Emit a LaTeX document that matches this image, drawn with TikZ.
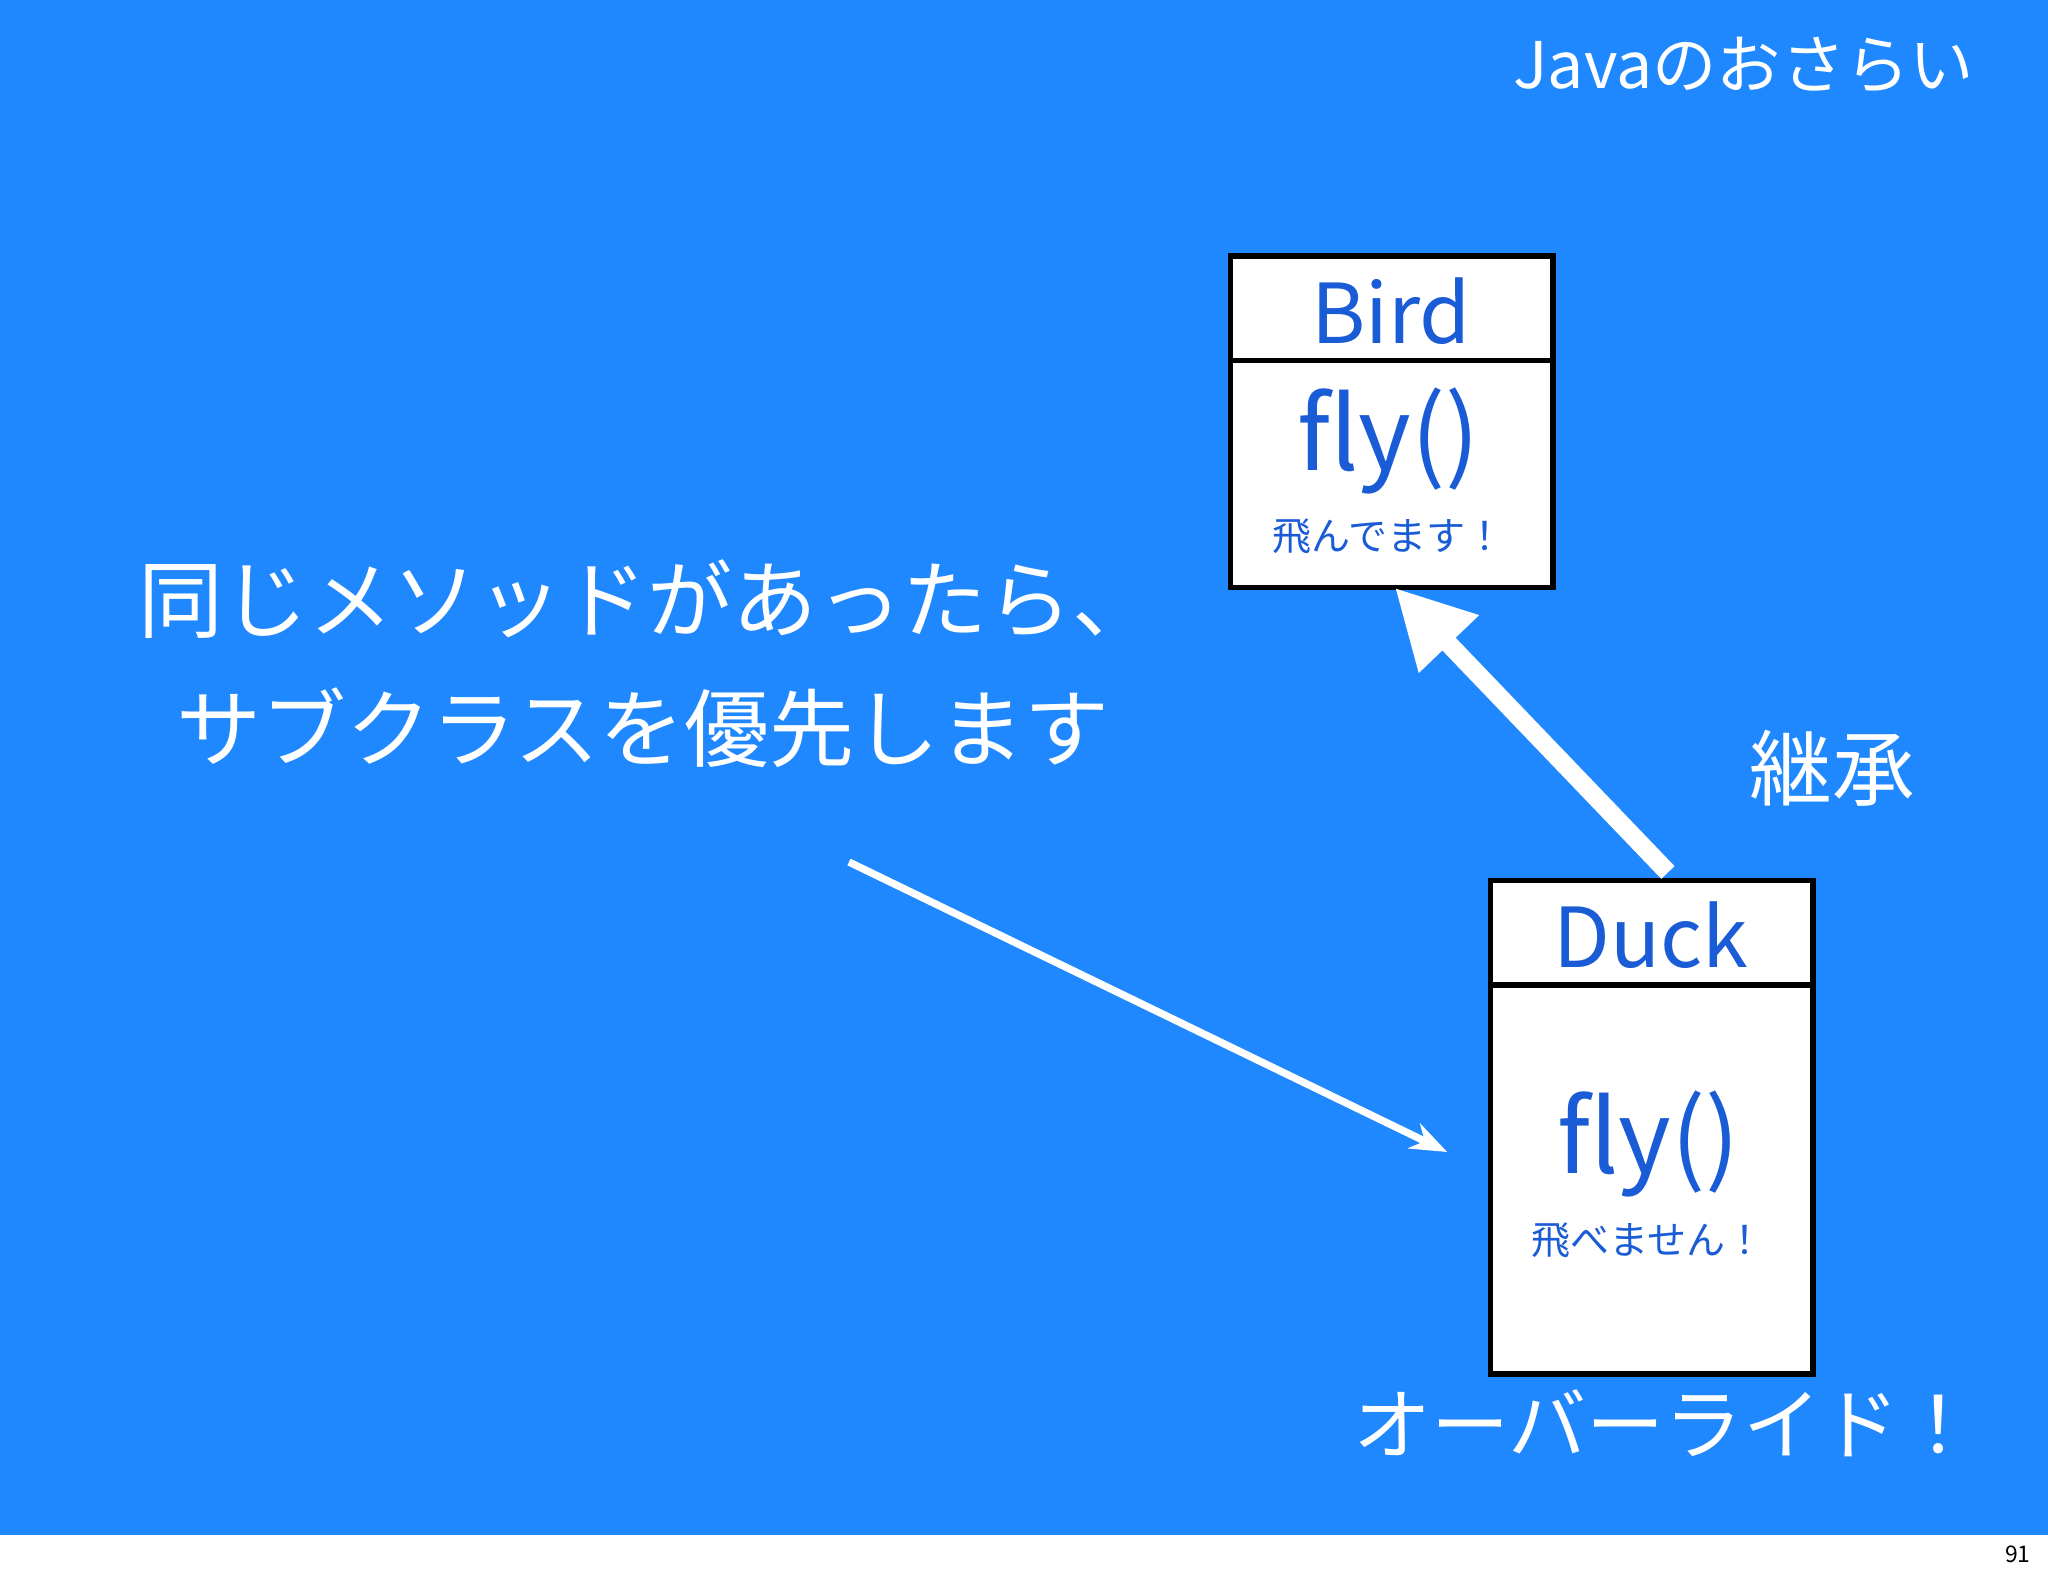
\documentclass[tikz,border=0pt]{standalone}
\usepackage{fontspec}
\setmainfont{Noto Sans CJK JP}
\usetikzlibrary{arrows.meta,positioning,calc}
\definecolor{slideblue}{HTML}{2088FF}
\definecolor{classblue}{HTML}{1A5CD6}

\begin{document}
\begin{tikzpicture}[
    x=0.01cm, y=-0.01cm,
    classbox/.style={rectangle, draw=black, fill=white, line width=1.2pt},
    wtext/.style={text=white, inner sep=0pt},
    ctext/.style={text=classblue, inner sep=0pt},
    inherit/.style={draw=white, line width=4pt, -{Triangle[width=17pt,length=17pt]}},
    pointer/.style={draw=white, line width=1.6pt, -{Stealth[length=8pt,width=6pt]}}
]
\useasboundingbox (0,0) rectangle (1568,1207);
\fill[slideblue] (0,0) rectangle (1568,1175);

% title and page number
\node[wtext, font=\fontsize{14}{16}\selectfont] (title) at (1335,50) {Javaのおさらい};
\node[inner sep=0pt, font=\fontsize{5}{6}\selectfont] (page) at (1545,1190) {91};

% Bird class
\draw[classbox] (942,196) rectangle (1189,450);
\draw[line width=1.2pt] (942,276) -- (1189,276);
\node[ctext, font=\fontsize{18}{20}\selectfont] (bird) at (1065,238) {Bird};
\node[ctext, font=\fontsize{22}{24}\selectfont] (birdfly) at (1063,338) {fly()};
\node[ctext, font=\fontsize{8.5}{10}\selectfont] (birdmsg) at (1063,411) {飛んでます！};

% Duck class
\draw[classbox] (1141,674) rectangle (1388,1052);
\draw[line width=1.2pt] (1141,754) -- (1388,754);
\node[ctext, font=\fontsize{18}{20}\selectfont] (duck) at (1264,716) {Duck};
\node[ctext, font=\fontsize{22}{24}\selectfont] (duckfly) at (1262,876) {fly()};
\node[ctext, font=\fontsize{8.5}{10}\selectfont] (duckmsg) at (1262,950) {飛べません！};

% labels
\node[wtext, font=\fontsize{18}{20}\selectfont] (keisho) at (1403,588) {継承};
\node[wtext, font=\fontsize{17}{19}\selectfont] (override) at (1275,1090) {オーバーライド！};
\node[wtext, font=\fontsize{18.5}{28}\selectfont, align=left, anchor=north west] (note) at (105,428)
  {同じメソッドがあったら、\\\hspace{0.45em}サブクラスを優先します};

% arrows
\coordinate (duckTop) at (1277,668);
\coordinate (birdBottom) at (1068,450);
\coordinate (noteEnd) at (650,660);
\coordinate (duckSide) at (1108,882);
\draw[inherit] (duckTop) -- (birdBottom);
\draw[pointer] (noteEnd) -- (duckSide);

\end{tikzpicture}
\end{document}
